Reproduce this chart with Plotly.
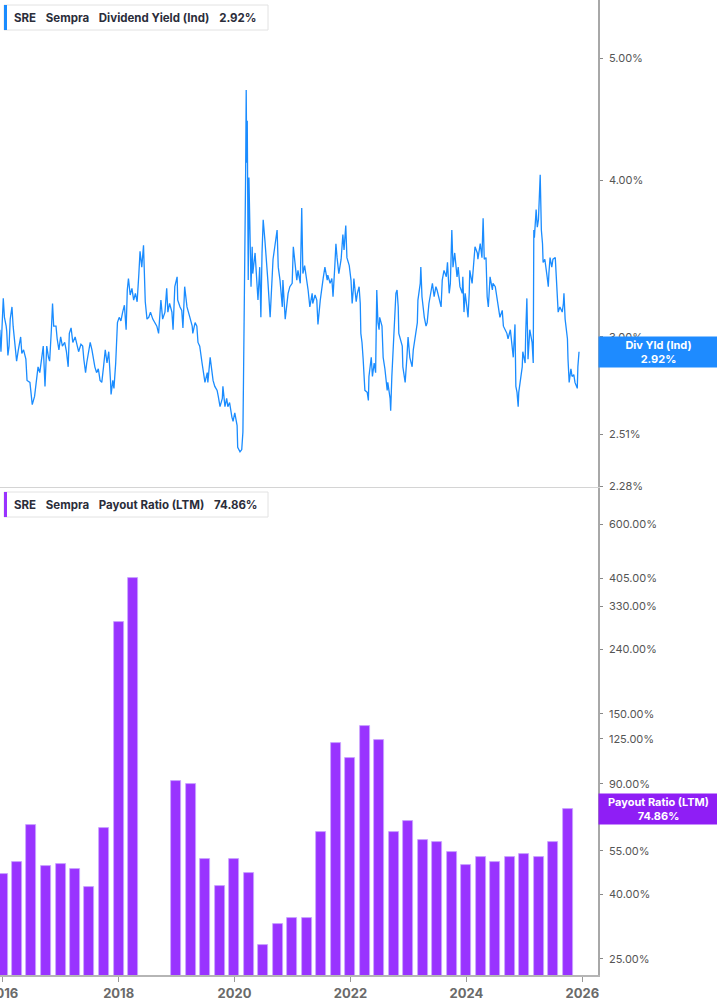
import pandas as pd
import numpy as np
import plotly.graph_objects as go

# ---------------- data ----------------
ticker = "SRE"
company = "Sempra"
yield_name = "Dividend Yield (Ind)"
payout_name = "Payout Ratio (LTM)"
last_yield = 2.92
last_payout = 74.86

# dividend yield (%) sampled from the chart: (decimal year, yield)
yield_2016_2018 = [
    (2015.95, 3.04), (2015.97, 2.92), (2016.01, 3.22), (2016.03, 3.11), (2016.06, 3.06),
    (2016.07, 3.03), (2016.09, 2.90), (2016.11, 2.95), (2016.13, 3.10), (2016.16, 3.17),
    (2016.18, 3.06), (2016.21, 2.97), (2016.24, 2.87), (2016.27, 2.93), (2016.31, 3.00),
    (2016.33, 2.91), (2016.36, 2.93), (2016.40, 2.88), (2016.42, 2.77), (2016.47, 2.76),
    (2016.50, 2.68), (2016.51, 2.65), (2016.55, 2.69), (2016.58, 2.76), (2016.61, 2.84),
    (2016.64, 2.81), (2016.67, 2.89), (2016.70, 2.95), (2016.73, 2.74), (2016.76, 2.95),
    (2016.79, 2.89), (2016.81, 2.87), (2016.84, 3.04), (2016.86, 3.19), (2016.88, 3.06),
    (2016.92, 3.06), (2016.94, 2.99), (2016.97, 2.93), (2017.00, 3.00), (2017.03, 2.95),
    (2017.07, 2.97), (2017.10, 2.92), (2017.13, 2.84), (2017.15, 3.02), (2017.18, 3.05),
    (2017.21, 2.97), (2017.25, 3.00), (2017.29, 2.95), (2017.31, 2.92), (2017.35, 2.96),
    (2017.38, 2.95), (2017.40, 2.88), (2017.43, 2.81), (2017.45, 2.86), (2017.48, 2.92),
    (2017.51, 2.97), (2017.54, 2.93), (2017.56, 2.89), (2017.59, 2.84), (2017.62, 2.81),
    (2017.65, 2.83), (2017.68, 2.77), (2017.71, 2.76), (2017.74, 2.84), (2017.77, 2.93),
    (2017.80, 2.86), (2017.83, 2.92), (2017.86, 2.77), (2017.87, 2.70), (2017.90, 2.77),
    (2017.92, 2.73), (2017.95, 2.86), (2017.98, 3.08), (2018.01, 3.11), (2018.04, 3.09),
    (2018.07, 3.14), (2018.10, 3.18), (2018.13, 3.04), (2018.15, 3.27), (2018.17, 3.34),
    (2018.20, 3.24), (2018.23, 3.28), (2018.26, 3.21), (2018.29, 3.25), (2018.32, 3.20),
    (2018.35, 3.37), (2018.37, 3.51), (2018.40, 3.41), (2018.43, 3.55), (2018.46, 3.20),
    (2018.49, 3.10), (2018.52, 3.11), (2018.55, 3.14),
]
yield_2018_2021 = [
    (2018.59, 3.10), (2018.66, 3.06), (2018.69, 3.02), (2018.73, 3.21), (2018.76, 3.10),
    (2018.80, 3.14), (2018.83, 3.28), (2018.85, 3.14), (2018.88, 3.19), (2018.92, 3.14),
    (2018.94, 3.04), (2018.97, 3.29), (2019.01, 3.35), (2019.02, 3.21), (2019.06, 3.17),
    (2019.09, 3.15), (2019.11, 3.05), (2019.14, 3.29), (2019.18, 3.17), (2019.20, 3.14),
    (2019.23, 3.11), (2019.27, 3.06), (2019.28, 3.02), (2019.32, 3.08), (2019.35, 3.06),
    (2019.37, 2.97), (2019.40, 2.95), (2019.44, 2.86), (2019.46, 2.81), (2019.49, 2.76),
    (2019.53, 2.81), (2019.54, 2.76), (2019.58, 2.89), (2019.61, 2.83), (2019.63, 2.77),
    (2019.66, 2.74), (2019.70, 2.72), (2019.72, 2.69), (2019.75, 2.64), (2019.79, 2.68),
    (2019.80, 2.74), (2019.835, 2.64), (2019.865, 2.68), (2019.885, 2.64), (2019.915, 2.66),
    (2019.955, 2.59), (2019.975, 2.57), (2020.005, 2.61), (2020.045, 2.55), (2020.055, 2.45),
    (2020.095, 2.43), (2020.125, 2.44), (2020.145, 2.52), (2020.155, 2.77), (2020.163, 2.99),
    (2020.179, 3.23), (2020.191, 4.00), (2020.202, 4.72), (2020.211, 4.13), (2020.220, 4.46),
    (2020.228, 4.00), (2020.237, 3.33), (2020.249, 4.02), (2020.265, 3.54), (2020.285, 3.29),
    (2020.305, 3.54), (2020.315, 3.37), (2020.355, 3.50), (2020.385, 3.33), (2020.405, 3.21),
    (2020.435, 3.41), (2020.455, 3.11), (2020.475, 3.50), (2020.495, 3.72), (2020.525, 3.58),
    (2020.565, 3.41), (2020.575, 3.33), (2020.615, 3.11), (2020.645, 3.29), (2020.665, 3.46),
    (2020.695, 3.54), (2020.735, 3.65), (2020.755, 3.41), (2020.785, 3.33), (2020.825, 3.17),
    (2020.835, 3.33), (2020.875, 3.10), (2020.905, 3.21), (2020.925, 3.25), (2020.955, 3.29),
    (2020.995, 3.31), (2021.015, 3.54), (2021.045, 3.44), (2021.075, 3.33), (2021.095, 3.39),
    (2021.135, 3.31),
]
yield_2021_2023 = [
    (2021.16, 3.80), (2021.18, 3.37), (2021.21, 3.42), (2021.25, 3.33), (2021.27, 3.27),
    (2021.30, 3.17), (2021.34, 3.25), (2021.35, 3.19), (2021.39, 3.24), (2021.42, 3.21),
    (2021.44, 3.07), (2021.48, 3.21), (2021.51, 3.31), (2021.53, 3.34), (2021.56, 3.41),
    (2021.60, 3.33), (2021.61, 3.36), (2021.65, 3.31), (2021.68, 3.34), (2021.70, 3.23),
    (2021.73, 3.41), (2021.75, 3.56), (2021.77, 3.47), (2021.80, 3.37), (2021.84, 3.46),
    (2021.87, 3.62), (2021.89, 3.52), (2021.92, 3.68), (2021.94, 3.47), (2021.98, 3.42),
    (2022.01, 3.33), (2022.03, 3.19), (2022.05, 3.27), (2022.06, 3.34), (2022.10, 3.20),
    (2022.12, 3.25), (2022.15, 3.29), (2022.17, 3.19), (2022.18, 3.02), (2022.20, 2.97),
    (2022.22, 2.88), (2022.25, 2.72), (2022.29, 2.71), (2022.31, 2.67), (2022.32, 2.79),
    (2022.34, 2.86), (2022.36, 2.89), (2022.38, 2.79), (2022.41, 2.86), (2022.435, 2.81),
    (2022.455, 3.27), (2022.475, 3.08), (2022.495, 3.04), (2022.505, 3.11), (2022.545, 3.06),
    (2022.565, 2.89), (2022.595, 2.83), (2022.635, 2.72), (2022.645, 2.76), (2022.685, 2.68),
    (2022.695, 2.62), (2022.715, 2.79), (2022.735, 2.92), (2022.765, 3.11), (2022.785, 3.25),
    (2022.805, 3.27), (2022.825, 3.17), (2022.835, 3.02), (2022.855, 2.99), (2022.895, 2.95),
    (2022.905, 2.84), (2022.945, 2.76), (2022.975, 2.89), (2022.995, 3.00), (2023.025, 2.89),
    (2023.065, 2.84), (2023.085, 2.93), (2023.115, 3.00), (2023.155, 3.08), (2023.165, 3.21),
    (2023.205, 3.31), (2023.215, 3.41), (2023.235, 3.23), (2023.275, 3.11), (2023.305, 3.06),
    (2023.325, 3.08), (2023.355, 3.19), (2023.395, 3.27), (2023.415, 3.31), (2023.445, 3.23),
    (2023.475, 3.29), (2023.495, 3.27), (2023.535, 3.21), (2023.565, 3.17), (2023.585, 3.33),
    (2023.615, 3.39), (2023.655, 3.35), (2023.675, 3.44), (2023.705, 3.25), (2023.725, 3.31),
]
yield_2023_2025 = [
    (2023.75, 3.65), (2023.77, 3.41), (2023.80, 3.50), (2023.84, 3.35), (2023.86, 3.41),
    (2023.89, 3.29), (2023.93, 3.25), (2023.94, 3.35), (2023.96, 3.14), (2023.98, 3.25),
    (2024.01, 3.17), (2024.03, 3.11), (2024.05, 3.25), (2024.06, 3.39), (2024.10, 3.31),
    (2024.12, 3.41), (2024.15, 3.54), (2024.19, 3.50), (2024.20, 3.46), (2024.24, 3.56),
    (2024.27, 3.47), (2024.29, 3.73), (2024.31, 3.46), (2024.34, 3.47), (2024.36, 3.23),
    (2024.38, 3.17), (2024.41, 3.35), (2024.45, 3.27), (2024.46, 3.31), (2024.50, 3.29),
    (2024.53, 3.21), (2024.55, 3.19), (2024.58, 3.11), (2024.62, 3.15), (2024.64, 3.06),
    (2024.67, 3.04), (2024.70, 3.02), (2024.72, 2.99), (2024.76, 3.04), (2024.79, 2.95),
    (2024.81, 2.89), (2024.84, 3.07), (2024.855, 2.74), (2024.875, 2.71), (2024.895, 2.64),
    (2024.905, 2.71), (2024.945, 2.81), (2024.965, 2.84), (2024.975, 2.92), (2025.015, 2.86),
    (2025.025, 3.02), (2025.045, 3.22), (2025.065, 2.88), (2025.085, 3.02), (2025.095, 3.04),
    (2025.135, 2.97), (2025.155, 2.86), (2025.165, 3.65), (2025.175, 3.60), (2025.205, 3.79),
    (2025.225, 3.67), (2025.245, 3.72), (2025.255, 3.86), (2025.275, 4.04), (2025.295, 3.65),
    (2025.315, 3.56), (2025.325, 3.44), (2025.355, 3.46), (2025.395, 3.35), (2025.415, 3.29),
    (2025.425, 3.37), (2025.445, 3.47), (2025.475, 3.41), (2025.495, 3.46), (2025.535, 3.47),
    (2025.565, 3.27), (2025.585, 3.14), (2025.615, 3.17), (2025.655, 3.14), (2025.675, 3.19),
    (2025.685, 3.25), (2025.705, 3.10), (2025.745, 2.99), (2025.755, 2.88), (2025.775, 2.76),
    (2025.805, 2.83), (2025.825, 2.79), (2025.855, 2.80), (2025.875, 2.76), (2025.915, 2.73),
    (2025.925, 2.84), (2025.945, 2.92),
]

# payout ratio (%) by quarter end (None = not shown)
payout_dates = [
    "2015-12-31", "2016-03-31", "2016-06-30", "2016-09-30", "2016-12-31",
    "2017-03-31", "2017-06-30", "2017-09-30", "2017-12-31", "2018-03-31",
    "2018-06-30", "2018-09-30", "2018-12-31", "2019-03-31", "2019-06-30",
    "2019-09-30", "2019-12-31", "2020-03-31", "2020-06-30", "2020-09-30",
    "2020-12-31", "2021-03-31", "2021-06-30", "2021-09-30", "2021-12-31",
    "2022-03-31", "2022-06-30", "2022-09-30", "2022-12-31", "2023-03-31",
    "2023-06-30", "2023-09-30", "2023-12-31", "2024-03-31", "2024-06-30",
    "2024-09-30", "2024-12-31", "2025-03-31", "2025-06-30", "2025-09-30",
]
payout_values = [
    46.5, 50.6, 66.5, 49.3, 50.1,
    48.1, 42.3, 64.9, 293.7, 405.0,
    None, None, 91.7, 89.8, 51.9,
    42.5, 51.8, 46.7, 27.6, 32.2,
    33.8, 33.8, 63.3, 121.2, 108.6,
    137.2, 123.9, 63.4, 68.6, 59.6,
    58.9, 54.5, 49.7, 52.6, 50.9,
    52.5, 53.9, 52.6, 58.7, 74.86,
]

x_tick_years = [2016, 2018, 2020, 2022, 2024, 2026]
yield_ticks = [2.28, 2.51, 3.00, 4.00, 5.00]
payout_ticks = [25, 40, 55, 90, 125, 150, 240, 330, 405, 600]

# ---------------- build ----------------
pts = yield_2016_2018 + yield_2018_2021 + yield_2021_2023 + yield_2023_2025
yr = np.array([p[0] for p in pts])
yv = [p[1] for p in pts]
base = pd.Timestamp("2016-01-01")
ydates = base + pd.to_timedelta((yr - 2016) * 365.25, unit="D")

BLUE = "#1a8cff"
PURPLE = "#9933ff"
PURPLE_LBL = "#8f1ef5"
FONT = "Inter"

fig = go.Figure()
fig.add_trace(go.Scatter(
    x=ydates, y=yv, mode="lines", xaxis="x2", yaxis="y",
    line=dict(color=BLUE, width=1.3), hoverinfo="skip", showlegend=False,
))
fig.add_trace(go.Bar(
    x=pd.to_datetime(payout_dates), y=payout_values, xaxis="x", yaxis="y2",
    marker=dict(color=PURPLE, line=dict(color="#c9a6ff", width=0.8)),
    width=63 * 86400000, hoverinfo="skip", showlegend=False,
))

xrange = ["2015-12-15", "2026-04-10"]
tickvals = [f"{y}-01-01" for y in x_tick_years]
ticktext = [str(y) for y in x_tick_years]

fig.update_layout(
    width=717, height=1005,
    margin=dict(l=0, r=119, t=0, b=30, autoexpand=False),
    paper_bgcolor="white", plot_bgcolor="white",
    font=dict(family=FONT, color="#555"),
    bargap=0,
    xaxis=dict(
        domain=[0, 1], anchor="y2", type="date", range=xrange, automargin=False,
        tickmode="array", tickvals=tickvals, ticktext=ticktext,
        ticks="outside", ticklen=5, tickcolor="#999", tickwidth=1,
        showline=True, linecolor="#b5b5b5", linewidth=2,
        showgrid=False, zeroline=False,
        tickfont=dict(family=FONT, size=13, color="#6a6a6a", weight="bold"),
        ticklabeloverflow="allow",
    ),
    xaxis2=dict(
        domain=[0, 1], anchor="y", type="date", matches="x", automargin=False,
        showticklabels=False, ticks="", showgrid=False, zeroline=False,
        showline=True, linecolor="#d4d4d4", linewidth=1,
    ),
    yaxis=dict(
        domain=[0.5005, 1], anchor="x2", side="right", type="log", automargin=False,
        range=[np.log10(2.278), np.log10(5.567)],
        tickmode="array", tickvals=yield_ticks,
        ticktext=[f"{v:.2f}%" for v in yield_ticks],
        ticks="outside", ticklen=3, tickcolor="#888",
        showline=True, linecolor="#a8a8a8", linewidth=1.5,
        showgrid=False, zeroline=False,
        tickfont=dict(family=FONT, size=11, color="#555"),
        ticklabeloverflow="allow", ticklabelstandoff=4,
    ),
    yaxis2=dict(
        domain=[0, 0.4995], anchor="x", side="right", type="log", automargin=False,
        range=[np.log10(22.19), np.log10(783)],
        tickmode="array", tickvals=payout_ticks,
        ticktext=[f"{v:.2f}%" for v in payout_ticks],
        ticks="outside", ticklen=3, tickcolor="#888",
        showline=True, linecolor="#a8a8a8", linewidth=1.5,
        showgrid=False, zeroline=False,
        tickfont=dict(family=FONT, size=11, color="#555"),
        ticklabeloverflow="allow", ticklabelstandoff=4,
    ),
)

# legend-like header boxes
PW, PH = 598.0, 975.0
def px_x(p):
    return p / PW
def px_y(p):
    return (PH - p) / PH

sp = "\u00a0\u00a0"
for top, color, name, val in [
    (5, BLUE, yield_name, f"{last_yield:.2f}%"),
    (492, PURPLE, payout_name, f"{last_payout:.2f}%"),
]:
    fig.add_shape(type="rect", xref="paper", yref="paper",
                  x0=px_x(4), x1=px_x(268), y0=px_y(top + 25), y1=px_y(top),
                  fillcolor="white", line=dict(color="#e2e2e2", width=1), layer="above")
    fig.add_shape(type="rect", xref="paper", yref="paper",
                  x0=px_x(4), x1=px_x(7), y0=px_y(top + 25), y1=px_y(top),
                  fillcolor=color, line=dict(width=0), layer="above")
    fig.add_annotation(
        xref="paper", yref="paper", x=px_x(12), y=px_y(top + 12.5),
        xanchor="left", yanchor="middle", showarrow=False,
        text=f"<b>{ticker}</b>{sp} <b>{company}</b>{sp} <b>{name}</b>{sp} <b>{val}</b>",
        font=dict(family=FONT, size=11.5, color="#2b2d3a"),
    )

# right-side value labels
fig.add_annotation(
    xref="paper", yref="y", x=1, y=np.log10(last_yield),
    xanchor="left", yanchor="middle", showarrow=False,
    text=f"<b>Div Yld (Ind)</b><br><b>{last_yield:.2f}%</b>",
    font=dict(family=FONT, size=11, color="white"),
    bgcolor="#1e8bff", width=119, height=30, align="center", borderpad=0,
)
fig.add_annotation(
    xref="paper", yref="y2", x=1, y=np.log10(last_payout),
    xanchor="left", yanchor="middle", showarrow=False,
    text=f"<b>{payout_name}</b><br><b>{last_payout:.2f}%</b>",
    font=dict(family=FONT, size=11, color="white"),
    bgcolor=PURPLE_LBL, width=119, height=30, align="center", borderpad=0,
)

fig.write_html("out.html", config={"displayModeBar": False},
               post_script="document.body.style.margin='0';")
